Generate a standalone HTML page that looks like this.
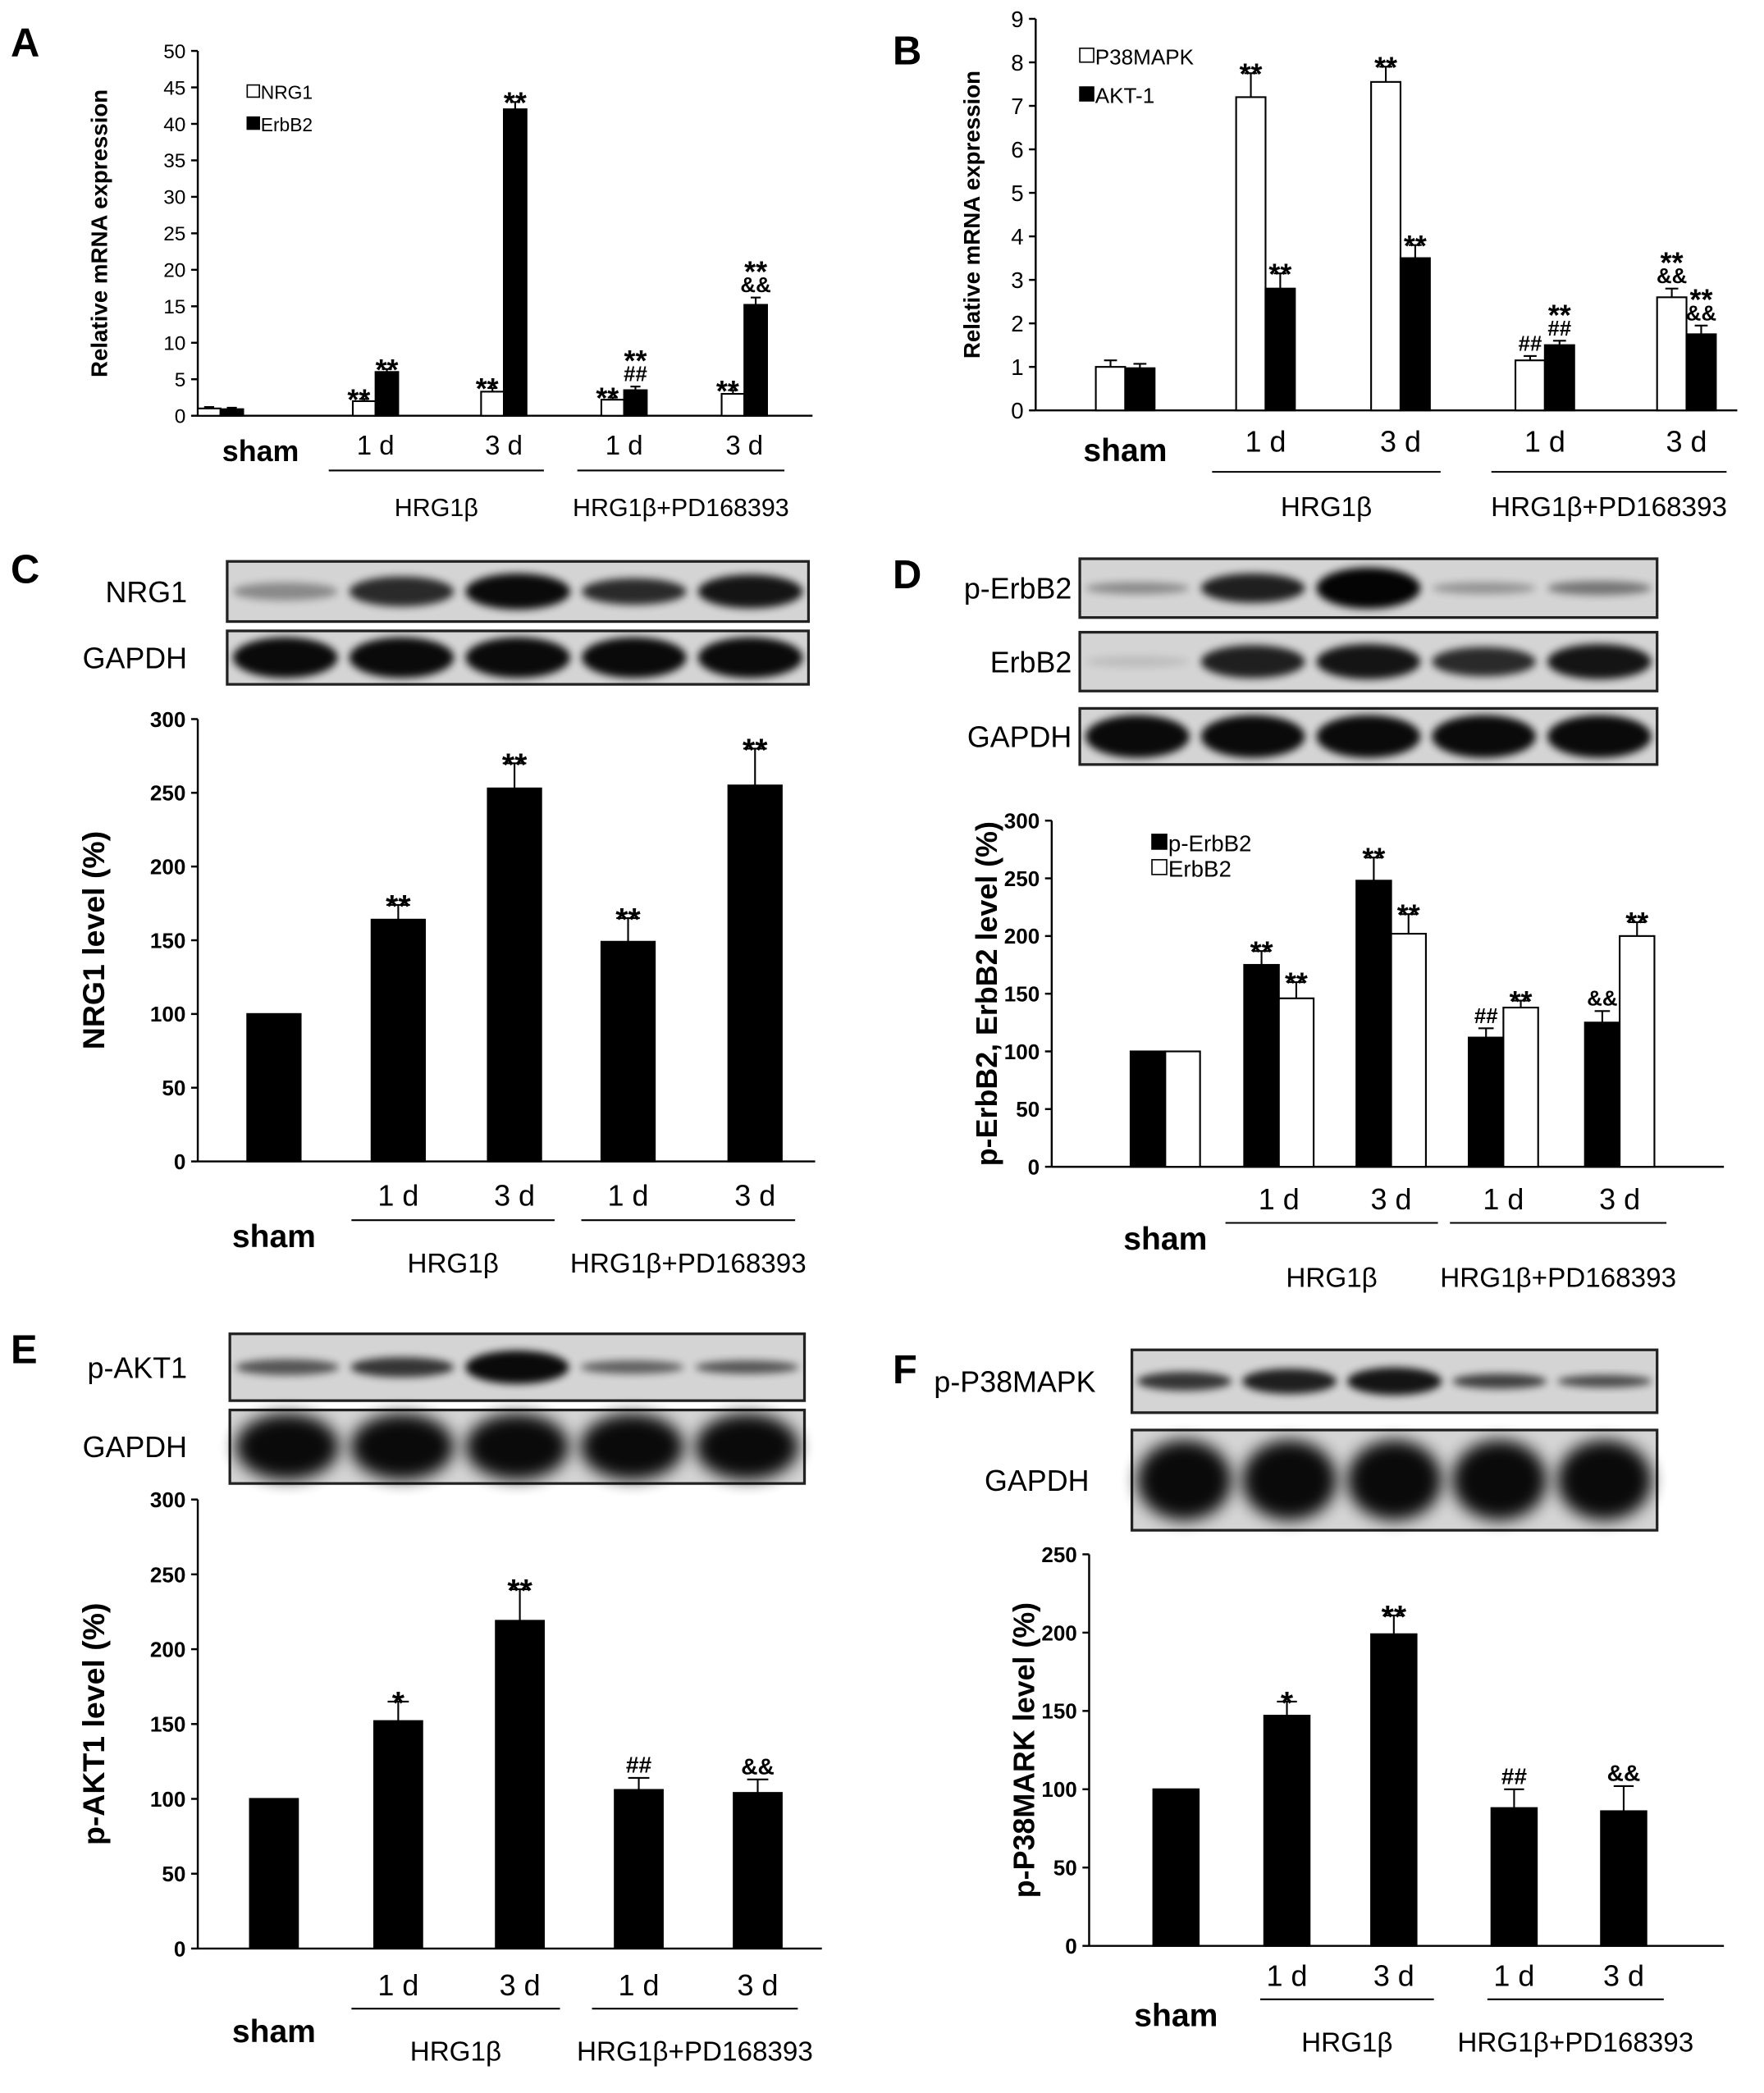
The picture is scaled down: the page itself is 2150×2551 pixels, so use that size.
<!DOCTYPE html>
<html><head><meta charset="utf-8">
<style>
html,body{margin:0;padding:0;background:#fff;}
svg{display:block;}
text{font-family:"Liberation Sans",Arial,sans-serif;}
</style></head>
<body>
<svg id="fig" width="2150" height="2551" viewBox="0 0 1320 1566" xmlns="http://www.w3.org/2000/svg">
<defs>
<filter id="blur" x="-20%" y="-50%" width="140%" height="200%"><feGaussianBlur stdDeviation="3"/></filter>
<filter id="blur2" x="-20%" y="-50%" width="140%" height="200%"><feGaussianBlur stdDeviation="6"/></filter>
</defs>
<g id="root"></g>
</svg>
<script>
// ---- Data ----
const groups = ["sham","1 d","3 d","1 d","3 d"];
const aNrg1 = [1.0, 2.0, 3.3, 2.2, 3.0];
const aNrg1Err = [0.2, 0.3, 0.5, 0.3, 0.5];
const aErbB2 = [0.9, 6.0, 42.0, 3.5, 15.2];
const aErbB2Err = [0.2, 0.4, 1.0, 0.5, 1.0];
const bP38 = [1.0, 7.2, 7.55, 1.15, 2.6];
const bP38Err = [0.15, 0.55, 0.35, 0.1, 0.2];
const bAkt = [0.97, 2.8, 3.5, 1.5, 1.75];
const bAktErr = [0.1, 0.35, 0.3, 0.1, 0.2];
const cNrg1 = [100, 164, 253, 149, 255];
const cNrg1Err = [0, 10, 17, 16, 25];
const dPErbB2 = [100, 175, 248, 112, 125];
const dPErbB2Err = [0, 12, 20, 8, 10];
const dErbB2 = [100, 146, 202, 138, 200];
const dErbB2Err = [0, 14, 17, 6, 12];
const eAkt = [100, 152, 219, 106, 104];
const eAktErr = [0, 13, 21, 8, 9];
const fP38 = [100, 147, 199, 88, 86];
const fP38Err = [0, 9, 12, 12, 16];

const NS = "http://www.w3.org/2000/svg";
const root = document.getElementById("root");
function mk(tag, attrs, parent, txt){
  const e = document.createElementNS(NS, tag);
  for (const k in attrs) e.setAttribute(k, attrs[k]);
  if (txt !== undefined) e.textContent = txt;
  (parent || root).appendChild(e);
  return e;
}
function panel(c){
  const g = mk("g", {});
  
  
  const y = v => c.y0 - (v / c.max) * (c.y0 - c.y1);
  const ax = mk("line", {x1:c.ax, y1:c.y1, x2:c.ax, y2:c.y0, stroke:"#000", "stroke-width":1.5}, g);
  
  
  const xa = mk("line", {x1:c.ax, y1:c.y0, x2:c.xend, y2:c.y0, stroke:"#000", "stroke-width":1.5}, g);
  
  
  for (let v = 0; v <= c.max + 1e-9; v += c.step){
    mk("line", {x1:c.ax-5, y1:y(v), x2:c.ax, y2:y(v), stroke:"#000", "stroke-width":1.5}, g);
    const t = mk("text", {x:c.ax-9, y:y(v)+c.tf*0.36, "font-size":c.tf, "font-weight":c.tbold?"bold":"normal", "text-anchor":"end"}, g, String(Math.round(v)));
    
    
  }
  const n = c.series.length;
  c.series.forEach((s, si) => {
    s.vals.forEach((v, i) => {
      const x = c.centers[i] - n*c.bw/2 + si*c.bw;
      const r = mk("rect", {x:x, y:y(v), width:c.bw, height:c.y0 - y(v), fill:s.fill, stroke:"#000", "stroke-width":1.3}, g);
      
      
      const e = s.errs[i];
      if (e > 0){
        const cx = x + c.bw/2, yt = y(v + e);
        mk("line", {x1:cx, y1:y(v), x2:cx, y2:yt, stroke:"#000", "stroke-width":1.3}, g);
        mk("line", {x1:cx-c.bw*0.22, y1:yt, x2:cx+c.bw*0.22, y2:yt, stroke:"#000", "stroke-width":1.3}, g);
      }
      const ann = s.ann ? s.ann[i] : null;
      if (ann){
        let yy = y(v + e) - 4;
        for (let k = ann.length - 1; k >= 0; k--){
          const a = ann[k];
          const star = a.indexOf("*") >= 0;
          const fs = star ? c.af : c.af*0.72;
          const tt = mk("text", {x:x + c.bw/2 + (s.adx||0), y:yy + (star? fs*0.55:0), "font-size":fs, "font-weight":"bold", "text-anchor":"middle"}, g, a);
          
          
          yy -= star ? fs*0.6 : fs*1.25;
        }
      }
    });
  });
  const L = c.lab;
  const sh = mk("text", {x:c.centers[0]+(L.shdx||0), y:L.sham, "font-size":L.fs, "font-weight":"bold", "text-anchor":"middle"}, g, "sham");
  
  
  for (let i = 1; i < 5; i++){
    const t = mk("text", {x:c.centers[i], y:L.day, "font-size":L.fs*0.92, "text-anchor":"middle"}, g, groups[i]);
    
    
  }
  [[1,2,"HRG1β"],[3,4,"HRG1β+PD168393"]].forEach(([a,b,name]) => {
    const x1 = c.centers[a] - L.lw, x2 = c.centers[b] + L.rw;
    mk("line", {x1:x1, y1:L.line, x2:x2, y2:L.line, stroke:"#000", "stroke-width":1.3}, g);
    const t = mk("text", {x:(x1+x2)/2, y:L.grp, "font-size":L.fs*0.85, "text-anchor":"middle"}, g, name);
    
    
  });
  const yl = mk("text", {x:0, y:0, "font-size":c.ylfs, "font-weight":"bold", "text-anchor":"middle", transform:"translate("+c.ylx+","+((c.y0+c.y1)/2)+") rotate(-90)"}, g, c.ylabel);
  
  
  const pl = mk("text", {x:c.letter[0], y:c.letter[1], "font-size":30, "font-weight":"bold"}, g, c.letter[2]);
  
  
  (c.legend||[]).forEach(lg => {
    const r = mk("rect", {x:lg[0], y:lg[1]-lg[4]*0.75, width:lg[4]*0.65, height:lg[4]*0.65, fill:lg[2], stroke:"#000", "stroke-width":1}, g);
    
    
    const t = mk("text", {x:lg[0]+lg[4]*0.72, y:lg[1], "font-size":lg[4]}, g, lg[3]);
    
    
  });
}
function blot(name, label, x, y, w, h, bands, lx, lfs){
  const g = mk("g", {});
  
  
  mk("rect", {x:x, y:y, width:w, height:h, fill:"#d4d4d4", stroke:"#222", "stroke-width":2}, g);
  const lw = w/5;
  bands.forEach((b, i) => {
    const cx = x + lw*(i+0.5);
    mk("ellipse", {cx:cx, cy:y+h/2, rx:lw*0.45, ry:h*b[0], fill:"#000", opacity:b[1], filter:b[2]?"url(#blur2)":"url(#blur)"}, g);
  });
  const t = mk("text", {x:lx, y:y+h/2+lfs*0.36, "font-size":lfs, "text-anchor":"end"}, g, label);
  
  
}

panel({name:"panel-a", ax:148, y0:311, y1:38, max:50, step:5, xend:608, tf:15, tbold:false,
  centers:[165,281,377,467,557], bw:17, af:22,
  series:[
    {key:"nrg1", vals:aNrg1, errs:aNrg1Err, fill:"#fff", adx:-4, ann:[null,["**"],["**"],["**"],["**"]]},
    {key:"erbb2", vals:aErbB2, errs:aErbB2Err, fill:"#000", ann:[null,["**"],["**"],["**","##"],["**","&&"]]}],
  lab:{fs:22, sham:345, day:340, line:352, grp:386, lw:35, rw:30, shdx:30},
  ylabel:"Relative mRNA expression", ylfs:17, ylx:80, letter:[8,42,"A"],
  legend:[[185,74,"#fff","NRG1",14],[185,98,"#000","ErbB2",14]]});

panel({name:"panel-b", ax:775, y0:307, y1:14, max:9, step:1, xend:1300, tf:17, tbold:false,
  centers:[842,947,1048,1156,1262], bw:22, af:22,
  series:[
    {key:"p38mapk", vals:bP38, errs:bP38Err, fill:"#fff", ann:[null,["**"],["**"],["##"],["**","&&"]]},
    {key:"akt1", vals:bAkt, errs:bAktErr, fill:"#000", ann:[null,["**"],["**"],["**","##"],["**","&&"]]}],
  lab:{fs:24, sham:345, day:338, line:353, grp:386, lw:40, rw:30},
  ylabel:"Relative mRNA expression", ylfs:17, ylx:733, letter:[668,48,"B"],
  legend:[[808,48,"#fff","P38MAPK",16],[808,77,"#000","AKT-1",16]]});

blot("blot-c-nrg1","NRG1",170,420,435,45,[[0.15,0.35],[0.25,0.8],[0.3,0.95],[0.22,0.8],[0.28,0.9]],140,22);
blot("blot-c-gapdh","GAPDH",170,472,435,40,[[0.38,0.95],[0.38,0.95],[0.38,0.95],[0.38,0.95],[0.38,0.95]],140,22);
panel({name:"panel-c", ax:148, y0:869, y1:538, max:300, step:50, xend:610, tf:16, tbold:true,
  centers:[205,298,385,470,565], bw:40, af:24,
  series:[{key:"nrg1", vals:cNrg1, errs:cNrg1Err, fill:"#000", ann:[null,["**"],["**"],["**"],["**"]]}],
  lab:{fs:24, sham:933, day:902, line:913, grp:952, lw:35, rw:30},
  ylabel:"NRG1 level (%)", ylfs:23, ylx:78, letter:[8,436,"C"]});

blot("blot-d-perbb2","p-ErbB2",808,418,432,44,[[0.1,0.35],[0.25,0.85],[0.35,0.98],[0.1,0.3],[0.12,0.45]],802,22);
blot("blot-d-erbb2","ErbB2",808,473,432,44,[[0.1,0.1],[0.28,0.85],[0.3,0.9],[0.25,0.8],[0.3,0.9]],802,22);
blot("blot-d-gapdh","GAPDH",808,530,432,42,[[0.38,0.95],[0.38,0.95],[0.38,0.95],[0.38,0.95],[0.38,0.95]],802,22);
panel({name:"panel-d", ax:787, y0:873, y1:614, max:300, step:50, xend:1290, tf:16, tbold:true,
  centers:[872,957,1041,1125,1212], bw:26, af:22,
  series:[
    {key:"p-erbb2", vals:dPErbB2, errs:dPErbB2Err, fill:"#000", ann:[null,["**"],["**"],["##"],["&&"]]},
    {key:"erbb2", vals:dErbB2, errs:dErbB2Err, fill:"#fff", ann:[null,["**"],["**"],["**"],["**"]]}],
  lab:{fs:24, sham:935, day:905, line:915, grp:963, lw:40, rw:35},
  ylabel:"p-ErbB2, ErbB2 level (%)", ylfs:22, ylx:746, letter:[668,440,"D"],
  legend:[[862,637,"#000","p-ErbB2",17],[862,656,"#fff","ErbB2",17]]});

blot("blot-e-pakt1","p-AKT1",172,998,430,50,[[0.12,0.6],[0.15,0.75],[0.25,0.95],[0.1,0.55],[0.1,0.6]],140,22);
blot("blot-e-gapdh","GAPDH",172,1055,430,55,[[0.45,0.95,1],[0.45,0.95,1],[0.45,0.95,1],[0.45,0.95,1],[0.45,0.95,1]],140,22);
panel({name:"panel-e", ax:148, y0:1458, y1:1122, max:300, step:50, xend:615, tf:16, tbold:true,
  centers:[205,298,389,478,567], bw:36, af:24,
  series:[{key:"p-akt1", vals:eAkt, errs:eAktErr, fill:"#000", ann:[null,["*"],["**"],["##"],["&&"]]}],
  lab:{fs:24, sham:1528, day:1493, line:1503, grp:1542, lw:35, rw:30},
  ylabel:"p-AKT1 level (%)", ylfs:23, ylx:78, letter:[8,1020,"E"]});

blot("blot-f-pp38","p-P38MAPK",847,1010,393,47,[[0.15,0.75],[0.2,0.85],[0.22,0.9],[0.12,0.7],[0.1,0.65]],820,22);
blot("blot-f-gapdh","GAPDH",847,1070,393,75,[[0.4,0.95,1],[0.4,0.95,1],[0.4,0.95,1],[0.4,0.95,1],[0.4,0.95,1]],815,22);
panel({name:"panel-f", ax:815, y0:1456, y1:1163, max:250, step:50, xend:1290, tf:16, tbold:true,
  centers:[880,963,1043,1133,1215], bw:34, af:24,
  series:[{key:"p-p38mapk", vals:fP38, errs:fP38Err, fill:"#000", ann:[null,["*"],["**"],["##"],["&&"]]}],
  lab:{fs:24, sham:1516, day:1486, line:1496, grp:1535, lw:20, rw:30},
  ylabel:"p-P38MARK level (%)", ylfs:22, ylx:774, letter:[668,1035,"F"]});
</script>
</body></html>
